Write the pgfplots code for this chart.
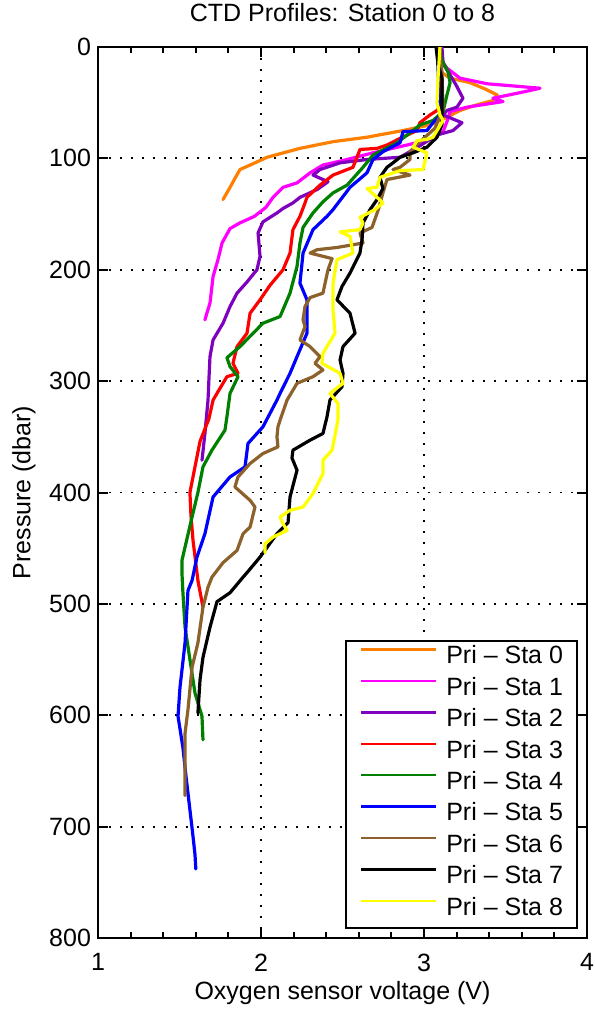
\documentclass[border=0pt]{standalone}
\usepackage{fontspec}
\setmainfont{Liberation Sans}
\usepackage{pgfplots}
\pgfplotsset{compat=1.18}

\definecolor{sta0}{rgb}{1,0.5,0}
\definecolor{sta1}{rgb}{1,0,1}
\definecolor{sta2}{rgb}{0.5,0,0.75}
\definecolor{sta3}{rgb}{1,0,0}
\definecolor{sta4}{rgb}{0,0.5,0}
\definecolor{sta5}{rgb}{0,0,1}
\definecolor{sta6}{rgb}{0.55,0.38,0.17}
\definecolor{sta7}{rgb}{0,0,0}
\definecolor{sta8}{rgb}{1,1,0}

\newcommand{\lbl}{\fontsize{12.5bp}{15bp}\selectfont}

\begin{document}
\begin{tikzpicture}
\useasboundingbox (0,0) rectangle (297.5bp,506bp);
\begin{axis}[
	at={(49bp,37bp)}, anchor=south west,
	scale only axis, width=244.5bp, height=445.5bp,
	xmin=1, xmax=4, ymin=0, ymax=800, y dir=reverse,
	xtick={1,2,3,4}, minor x tick num=4,
	ytick={0,100,...,800},
	grid=major,
	major grid style={black, line width=0.9bp, dash pattern=on 0.9bp off 4.6bp},
	axis line style={line width=1bp},
	tick style={black, line width=1bp},
	major tick length=5bp, minor tick length=3bp,
	tick label style={font=\lbl},
	xticklabel style={yshift=-4.3bp},
	/pgf/number format/assume math mode=true,
	title={CTD Profiles: Station 0 to 8},
	title style={font=\lbl, yshift=3.3bp},
	xlabel={Oxygen sensor voltage (V)},
	xlabel style={yshift=2bp},
	ylabel={Pressure (dbar)},
	label style={font=\lbl},
	every axis plot/.append style={line width=1.6bp, line join=round, line cap=round},
	legend cell align=left,
	legend style={at={(1,0)}, anchor=south east, xshift=-4.5bp, yshift=4.5bp,
		draw=black, line width=1bp, fill=white, font=\lbl,
		inner xsep=7bp, inner ysep=1bp, row sep=0pt,
		nodes={inner sep=0pt, text height=10.2bp, text depth=5.5bp},
		/tikz/every odd column/.append style={column sep=4.5bp}},
	legend image code/.code={\draw[#1, line width=1.2bp, line cap=butt] (0bp,4.8bp) -- (37.5bp,4.8bp);},
]
% Station 0
\addplot[sta0] coordinates {(3.086,0) (3.092,15) (3.098,22) (3.160,28) (3.282,32) (3.380,38) (3.448,43) (3.423,48) (3.300,53) (3.221,57) (3.141,63) (3.037,70) (2.871,75) (2.650,81) (2.442,85) (2.239,91) (2.037,99) (1.933,106) (1.871,110) (1.840,118) (1.810,126) (1.767,137)};
% Station 1
\addplot[sta1] coordinates {(3.098,0) (3.110,8) (3.117,14) (3.141,19) (3.221,28) (3.387,33) (3.550,35) (3.712,37) (3.589,41) (3.423,46) (3.485,49) (3.264,54) (3.160,58) (3.141,67) (3.117,76) (3.037,83) (2.896,88) (2.687,95) (2.528,101) (2.380,106) (2.301,113) (2.221,122) (2.135,126) (2.074,135) (2.030,144) (1.960,152) (1.870,158) (1.810,163) (1.761,176) (1.736,191) (1.706,206) (1.695,220) (1.687,230) (1.670,238) (1.656,245)};
% Station 2
\addplot[sta2] coordinates {(3.110,0) (3.117,15) (3.160,25) (3.200,35) (3.239,46) (3.202,54) (3.141,57) (3.117,61) (3.233,68) (3.178,75) (3.080,79) (2.960,90) (2.853,99) (2.650,101) (2.485,104) (2.362,110) (2.319,115) (2.411,121) (2.344,128) (2.239,135) (2.196,140) (2.135,145) (2.098,149) (2.012,157) (1.982,167) (1.994,188) (1.975,200) (1.914,211) (1.853,221) (1.810,233) (1.767,248) (1.706,263) (1.687,278) (1.680,300) (1.675,317) (1.656,347) (1.638,371)};
% Station 3
\addplot[sta3] coordinates {(3.086,0) (3.098,30) (3.117,50) (3.080,57) (3.037,61) (2.975,68) (2.957,75) (2.853,82) (2.773,88) (2.712,91) (2.607,92) (2.589,99) (2.564,108) (2.442,115) (2.362,124) (2.282,135) (2.270,140) (2.239,152) (2.196,164) (2.178,185) (2.135,200) (2.055,214) (1.994,227) (1.933,239) (1.914,257) (1.853,269) (1.828,284) (1.859,293) (1.791,296) (1.730,311) (1.706,317) (1.680,334) (1.626,354) (1.595,377) (1.564,400) (1.570,420) (1.583,443) (1.613,479) (1.644,503)};
% Station 4
\addplot[sta4] coordinates {(3.092,0) (3.110,12) (3.147,22) (3.160,32) (3.141,43) (3.117,58) (3.055,66) (2.975,70) (2.933,75) (2.834,86) (2.687,97) (2.626,108) (2.528,124) (2.442,131) (2.380,139) (2.319,149) (2.258,162) (2.239,176) (2.221,197) (2.178,221) (2.117,242) (2.012,248) (1.871,269) (1.791,279) (1.810,287) (1.859,296) (1.810,311) (1.791,332) (1.779,344) (1.699,362) (1.644,377) (1.613,400) (1.577,422) (1.534,449) (1.515,461) (1.515,472) (1.521,490) (1.534,521) (1.564,550) (1.595,580) (1.638,601) (1.644,622)};
% Station 5
\addplot[sta5] coordinates {(3.080,0) (3.092,40) (3.098,62) (3.055,68) (3.018,75) (2.871,76) (2.853,86) (2.748,94) (2.687,101) (2.650,113) (2.546,126) (2.442,146) (2.405,152) (2.319,164) (2.258,185) (2.239,212) (2.282,227) (2.282,257) (2.221,278) (2.178,293) (2.117,311) (2.098,317) (2.012,341) (1.920,356) (1.902,377) (1.810,386) (1.706,404) (1.656,437) (1.607,458) (1.577,479) (1.552,488) (1.534,535) (1.503,575) (1.491,601) (1.521,629) (1.540,655) (1.560,680) (1.580,705) (1.595,725) (1.600,738)};
% Station 6
\addplot[sta6] coordinates {(3.092,0) (3.110,22) (3.117,55) (3.067,73) (2.975,85) (2.914,94) (2.914,101) (2.853,108) (2.810,110) (2.914,115) (2.773,119) (2.748,131) (2.720,146) (2.681,162) (2.607,167) (2.626,176) (2.466,180) (2.344,182) (2.301,185) (2.436,190) (2.411,200) (2.380,221) (2.301,225) (2.270,233) (2.258,245) (2.270,251) (2.239,263) (2.301,269) (2.362,278) (2.331,284) (2.380,290) (2.319,296) (2.221,302) (2.160,317) (2.117,335) (2.104,341) (2.098,350) (2.104,359) (2.012,365) (1.933,374) (1.859,386) (1.840,395) (1.933,407) (1.963,413) (1.933,431) (1.890,437) (1.853,452) (1.767,463) (1.699,476) (1.675,485) (1.644,503) (1.613,535) (1.577,557) (1.552,595) (1.534,616) (1.534,640) (1.534,672)};
% Station 7
\addplot[sta7] coordinates {(3.074,0) (3.086,15) (3.110,28) (3.110,58) (3.110,70) (3.080,81) (3.018,90) (2.933,95) (2.853,99) (2.810,104) (2.773,108) (2.730,117) (2.748,127) (2.712,137) (2.669,146) (2.626,158) (2.620,173) (2.607,185) (2.546,203) (2.497,215) (2.466,227) (2.546,239) (2.577,257) (2.503,269) (2.485,281) (2.503,293) (2.497,305) (2.423,317) (2.405,332) (2.380,347) (2.301,353) (2.196,362) (2.190,369) (2.221,380) (2.178,404) (2.166,427) (2.098,437) (1.994,458) (1.914,472) (1.890,476) (1.810,490) (1.730,498) (1.687,521) (1.644,548) (1.626,568) (1.613,598)};
% Station 8
\addplot[sta8] coordinates {(3.098,0) (3.086,28) (3.080,50) (3.098,61) (3.117,66) (3.055,81) (3.018,83) (2.957,84) (2.933,90) (3.018,95) (2.994,110) (2.853,111) (2.730,117) (2.712,126) (2.650,127) (2.712,135) (2.748,140) (2.699,146) (2.607,153) (2.626,158) (2.607,164) (2.485,166) (2.546,170) (2.564,185) (2.466,191) (2.442,212) (2.442,236) (2.454,257) (2.380,275) (2.374,284) (2.485,293) (2.503,302) (2.423,311) (2.472,320) (2.472,335) (2.436,362) (2.380,371) (2.380,383) (2.319,401) (2.258,413) (2.178,416) (2.117,422) (2.135,428) (2.160,434) (2.074,440) (2.025,446) (2.025,454)};
\legend{Pri -- Sta 0, Pri -- Sta 1, Pri -- Sta 2, Pri -- Sta 3, Pri -- Sta 4, Pri -- Sta 5, Pri -- Sta 6, Pri -- Sta 7, Pri -- Sta 8}
\end{axis}
\end{tikzpicture}
\end{document}
